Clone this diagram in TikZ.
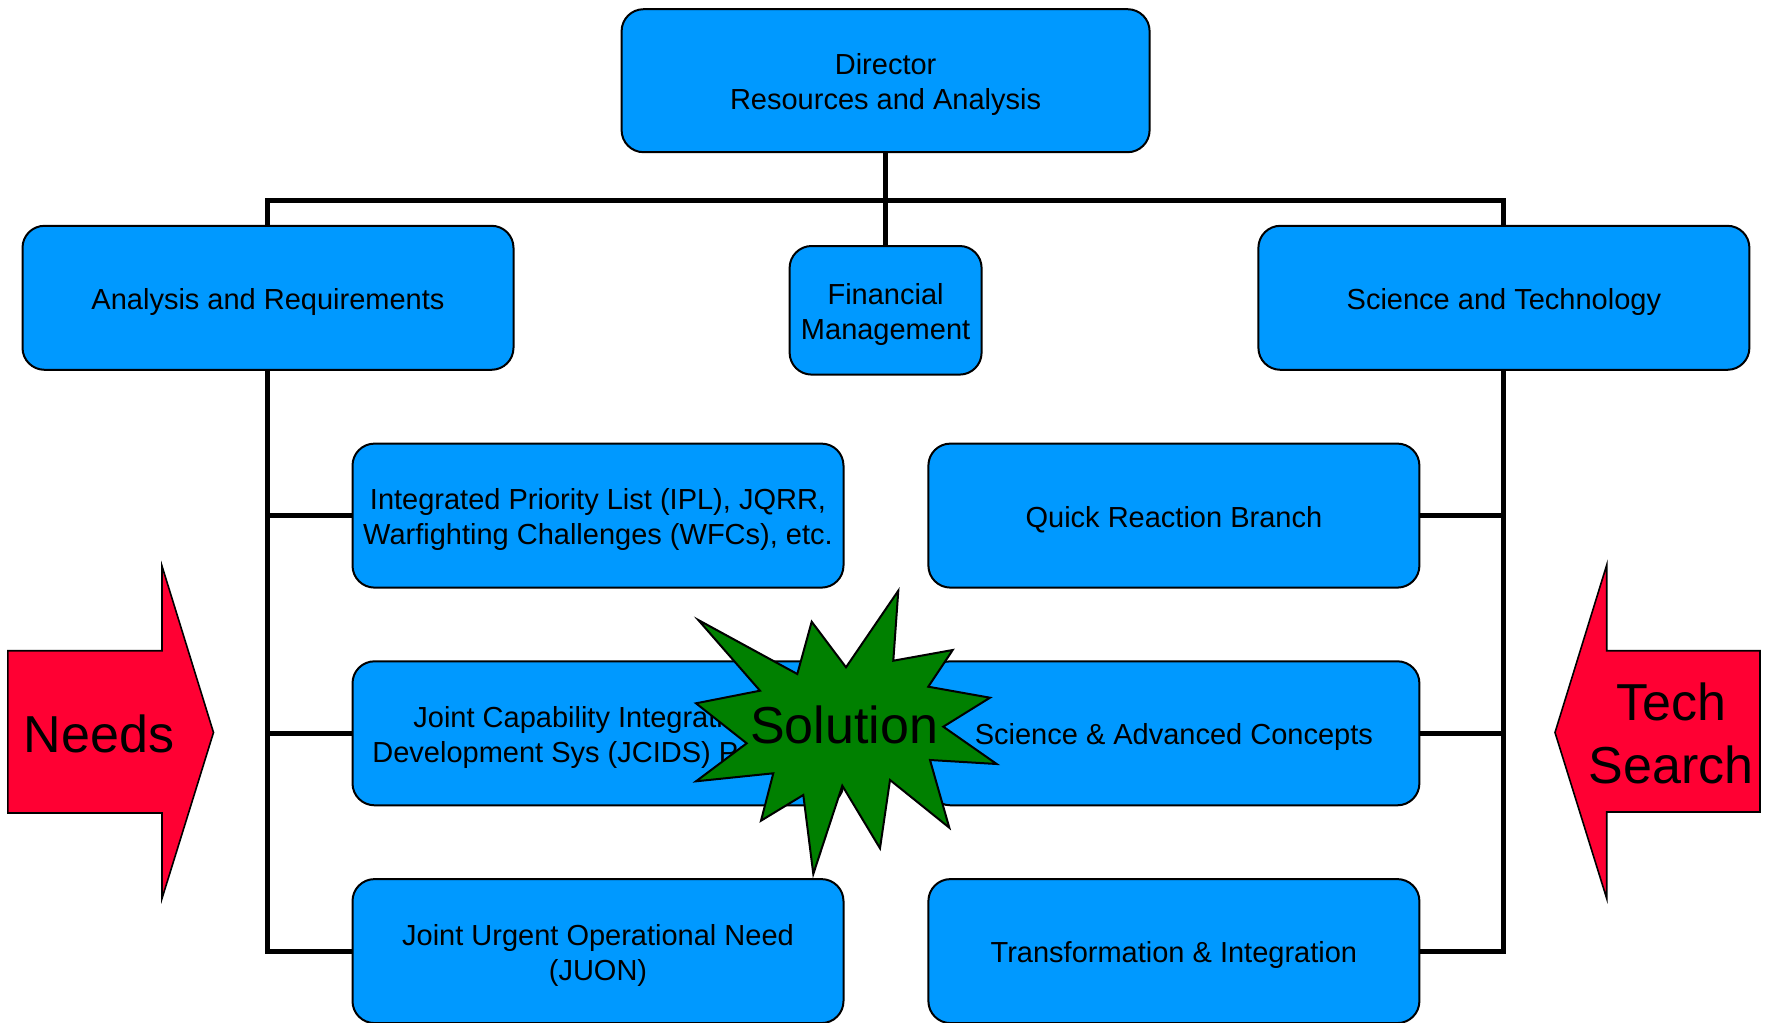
\documentclass[tikz,border=0pt]{standalone}
\usepackage{fontspec}
\setmainfont{Liberation Sans}
\usetikzlibrary{backgrounds}
\definecolor{boxblue}{HTML}{0099FF}
\definecolor{arrred}{HTML}{FF0033}
\definecolor{burstgreen}{HTML}{008000}
\newcommand{\lnA}{\rule{0pt}{14.8pt}}
\newcommand{\lnB}{\rule[-3.2pt]{0pt}{3.2pt}}
\begin{document}
\begin{tikzpicture}[x=0.5pt,y=-0.5pt,
  box/.style={draw=black, line width=1pt, fill=boxblue, rounded corners=11pt,
    inner sep=0pt, align=center, minimum width=245.5pt, minimum height=72pt,
    font=\fontsize{14.5pt}{17.5pt}\selectfont},
  conn/.style={line width=2.5pt, draw=black},
  bigtxt/.style={font=\fontsize{26pt}{31.5pt}\selectfont, inner sep=0pt, align=center},
  redarrow/.style={draw=black, line width=0.8pt, fill=arrred},
  burst/.style={draw=black, line width=1pt, fill=burstgreen, line join=miter}]

\useasboundingbox (0,0) rectangle (1769,1023);

% top level
\node[box, minimum width=264pt, minimum height=71.5pt] (dir) at (885.6,80.7) {\lnA Director\\Resources and Analysis\lnB};
\node[box] (ar) at (268,297.8) {\lnA Analysis and Requirements\lnB};
\node[box, minimum width=96pt, minimum height=64.3pt] (fm) at (885.6,310.3) {\lnA Financial\\Management\lnB};
\node[box] (st) at (1503.9,297.8) {\lnA Science and Technology\lnB};

% left column
\node[box] (ipl) at (598,515.6) {\lnA Integrated Priority List (IPL), JQRR,\\Warfighting Challenges (WFCs), etc.\lnB};
\node[box] (jc) at (598,733.3) {\lnA Joint Capability Integration \&\\Development Sys (JCIDS) Process\lnB};
\node[box] (ju) at (598,951.1) {\lnA Joint Urgent Operational Need\\(JUON)\lnB};

% right column
\node[box] (qr) at (1173.9,515.6) {\lnA Quick Reaction Branch\lnB};
\node[box] (sa) at (1173.9,733.3) {\lnA Science \& Advanced Concepts\lnB};
\node[box] (ti) at (1173.9,951.1) {\lnA Transformation \& Integration\lnB};

\coordinate (busL) at (267.4,200.8);
\coordinate (busR) at (1503.9,200.8);

\begin{scope}[on background layer]
  \draw[conn] (dir.south) -- (fm.north);
  \draw[conn] (ju.west) -| (busL) -- (busR) |- (ti.east);
  \draw[conn] (ipl.west) -- (ipl.west -| busL);
  \draw[conn] (jc.west) -- (jc.west -| busL);
  \draw[conn] (qr.east) -- (qr.east -| busR);
  \draw[conn] (sa.east) -- (sa.east -| busR);
\end{scope}

% Needs arrow
\draw[redarrow] (7.9,650.7) -- (162,650.7) -- (162,566) -- (213.5,732.5) -- (162,898.5) -- (162,813) -- (7.9,813) -- cycle;
\node[bigtxt, anchor=base] (needs) at (99,752) {Needs};

% Tech Search arrow
\draw[redarrow] (1760,650.7) -- (1606.7,650.7) -- (1606.7,565) -- (1555,732.5) -- (1606.7,898.5) -- (1606.7,812) -- (1760,812) -- cycle;
\node[bigtxt] (tech) at (1671,733) {Tech\\Search};

% Solution starburst
\draw[burst] (898.3,590.7) -- (893.3,660.7) -- (952.7,650) -- (928.3,686.7) -- (990,697.7)
  -- (943.3,726.7) -- (996.7,764) -- (930,760) -- (949.3,827.7) -- (890,780)
  -- (880,848.3) -- (842.3,785.7) -- (813.3,874) -- (803.3,795) -- (761,820.7)
  -- (773.3,773.3) -- (696,781.3) -- (746.7,743.3) -- (696,703.3) -- (760,690.7)
  -- (698.3,620) -- (797.3,674) -- (811.7,621.7) -- (846,667.3) -- cycle;
\node[bigtxt, anchor=base] (sol) at (844,743) {Solution};

\end{tikzpicture}
\end{document}
